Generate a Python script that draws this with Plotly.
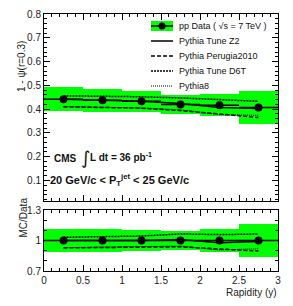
import plotly.graph_objects as go
from plotly.subplots import make_subplots

# ---- data ----
rapidity = [0.25, 0.75, 1.25, 1.75, 2.25, 2.75]
data_vals = [0.442, 0.437, 0.433, 0.420, 0.416, 0.407]
data_err = [0.050, 0.048, 0.043, 0.040, 0.046, 0.068]
z2_vals = [0.442, 0.437, 0.433, 0.424, 0.407, 0.403]
perugia_vals = [0.410, 0.407, 0.404, 0.394, 0.381, 0.365]
d6t_vals = [0.456, 0.455, 0.452, 0.447, 0.440, 0.433]
py8_vals = [0.411, 0.408, 0.405, 0.397, 0.377, 0.374]
bin_half = [0.25] * 6

ratio = lambda m: [a / b for a, b in zip(m, data_vals)]

# page body has an 8px margin on every side; size the figure so the page is exactly 293x306
OFF = 8
W, H = 293 - 2 * OFF, 306 - 2 * OFF
ML, MR, MT, MB = 44 - OFF, (293 - OFF) - 278, 14 - OFF, (306 - OFF) - 271
PW, PH = W - ML - MR, H - MT - MB

def px(x):
    return (x - OFF - ML) / PW

def py(y):
    return (H - MB - (y - OFF)) / PH

FONT = "Liberation Sans, Arial, sans-serif"
GREEN = "#00ff00"

fig = make_subplots(rows=2, cols=1, shared_xaxes=False, vertical_spacing=0.0,
                    row_heights=[0.76, 0.24])

def add_panel(row, dv, de, z2, pe, d6, p8):
    fig.add_trace(go.Bar(x=rapidity, y=[2 * e for e in de],
                         base=[v - e for v, e in zip(dv, de)],
                         width=0.5, marker=dict(color=GREEN, line=dict(width=0)),
                         showlegend=False, hoverinfo="skip"), row=row, col=1)
    fig.add_trace(go.Scatter(x=rapidity, y=z2, mode="lines",
                             line=dict(color="black", width=1.5), showlegend=False), row=row, col=1)
    fig.add_trace(go.Scatter(x=rapidity, y=pe, mode="lines",
                             line=dict(color="black", width=1.5, dash="4px,2px"), showlegend=False), row=row, col=1)
    fig.add_trace(go.Scatter(x=rapidity, y=d6, mode="lines",
                             line=dict(color="black", width=1.5, dash="2px,1px"), showlegend=False), row=row, col=1)
    fig.add_trace(go.Scatter(x=rapidity, y=p8, mode="lines",
                             line=dict(color="black", width=1, dash="1px,1px"), showlegend=False), row=row, col=1)
    fig.add_trace(go.Scatter(x=rapidity, y=dv, mode="markers",
                             marker=dict(color="black", size=8),
                             error_x=dict(type="data", array=bin_half, width=0, color="black", thickness=1.5),
                             showlegend=False), row=row, col=1)

add_panel(1, data_vals, data_err, z2_vals, perugia_vals, d6t_vals, py8_vals)
add_panel(2, [1.0] * 6, [e / v for e, v in zip(data_err, data_vals)],
          ratio(z2_vals), ratio(perugia_vals), ratio(d6t_vals), ratio(py8_vals))

top_dom = [py(200.7), 1.0]
bot_dom = [0.0, py(210)]

axis_common = dict(showline=True, linecolor="black", linewidth=1, mirror="ticks",
                   ticks="inside", ticklen=6, tickcolor="black", showgrid=False, zeroline=False,
                   automargin=False,
                   tickfont=dict(family=FONT, size=10, color="#222"))

fig.update_xaxes(**axis_common, range=[0, 3], dtick=0.5, tick0=0,
                 minor=dict(ticks="inside", ticklen=3, dtick=0.1, tickcolor="black"))
fig.update_xaxes(showticklabels=False, row=1, col=1)
fig.update_xaxes(showticklabels=True, row=2, col=1)
fig.update_yaxes(**axis_common)
fig.update_yaxes(row=1, col=1, range=[0.015, 0.8], dtick=0.1, tick0=0, domain=top_dom,
                 minor=dict(ticks="inside", ticklen=3, dtick=0.02, tickcolor="black"))
fig.update_yaxes(row=2, col=1, range=[0.7, 1.3], tickvals=[0.7, 1.0, 1.3], ticktext=["0.7", "1", "1.3"],
                 domain=bot_dom,
                 minor=dict(ticks="inside", ticklen=3, dtick=0.1, tickcolor="black"))

fig.update_layout(width=W, height=H, margin=dict(l=ML, r=MR, t=MT, b=MB, autoexpand=False),
                  paper_bgcolor="white", plot_bgcolor="white", barmode="overlay", bargap=0,
                  showlegend=False, font=dict(family=FONT, color="black"))

ann = []
shapes = []
# axis titles
ann.append(dict(text="1 - ψ(r=0.3)", x=px(14), y=py(39), xref="paper", yref="paper",
                textangle=-90, showarrow=False, font=dict(family=FONT, size=10, color="#222")))
ann.append(dict(text="MC/Data", x=px(15), y=py(240), xref="paper", yref="paper",
                textangle=-90, showarrow=False, font=dict(family=FONT, size=10, color="#222")))
ann.append(dict(text="Rapidity (y)", x=px(279), y=py(291), xref="paper", yref="paper",
                xanchor="right", yanchor="top", yshift=6, showarrow=False,
                font=dict(family=FONT, size=10, color="#222")))

# legend (manual)
leg_rows = [26, 41, 56, 71, 86]
leg_texts = ["pp Data ( √s = 7 TeV )", "Pythia Tune Z2", "Pythia Perugia2010", "Pythia Tune D6T", "Pythia8"]
for yy, t in zip(leg_rows, leg_texts):
    ann.append(dict(text=t, x=px(177), y=py(yy), xref="paper", yref="paper", xanchor="left",
                    yanchor="middle", showarrow=False, font=dict(family=FONT, size=9, color="#111")))
shapes.append(dict(type="rect", xref="paper", yref="paper", x0=px(151), x1=px(173),
                   y0=py(31), y1=py(21), fillcolor=GREEN, line=dict(width=0)))
shapes.append(dict(type="line", xref="paper", yref="paper", x0=px(151), x1=px(173),
                   y0=py(26), y1=py(26), line=dict(color="black", width=1.5)))
shapes.append(dict(type="circle", xref="paper", yref="paper", x0=px(158.5), x1=px(165.5),
                   y0=py(29.5), y1=py(22.5), fillcolor="black", line=dict(width=0)))
dashes = ["solid", "4px,2px", "2px,1px", "1px,1px"]
widths = [1.5, 1.5, 1.5, 1]
for yy, d, w in zip(leg_rows[1:], dashes, widths):
    shapes.append(dict(type="line", xref="paper", yref="paper", x0=px(151), x1=px(173),
                       y0=py(yy), y1=py(yy), line=dict(color="black", width=w, dash=d)))

# CMS labels
ann.append(dict(text="<b>CMS</b>", x=px(52), y=py(158), xref="paper", yref="paper",
                xanchor="left", showarrow=False, font=dict(family=FONT, size=10, color="#111")))
ann.append(dict(text="∫", x=px(79), y=py(157), xref="paper", yref="paper",
                xanchor="left", showarrow=False, font=dict(family="DejaVu Sans", size=18, color="#111")))
ann.append(dict(text="<b>L dt = 36 pb<sup>-1</sup></b>", x=px(88), y=py(157), xref="paper", yref="paper",
                xanchor="left", showarrow=False, font=dict(family=FONT, size=10, color="#111")))
ann.append(dict(text="<b>20 GeV/c < P<sub>T</sub><sup>jet</sup> < 25 GeV/c</b>", x=px(48), y=py(180),
                xref="paper", yref="paper", xanchor="left", showarrow=False,
                font=dict(family=FONT, size=11, color="#111")))

fig.update_layout(annotations=ann, shapes=shapes)
fig.write_html("out.html", config={"displayModeBar": False})
